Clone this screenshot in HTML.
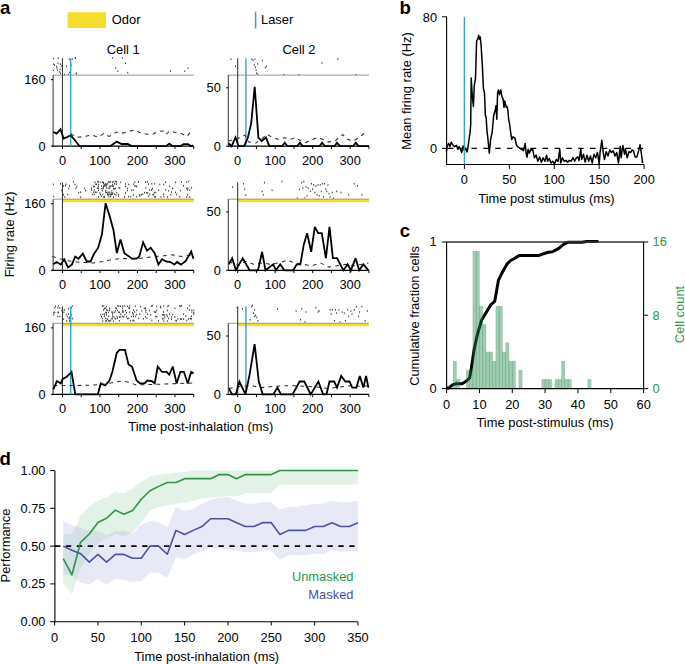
<!DOCTYPE html>
<html><head><meta charset="utf-8"><style>
html,body{margin:0;padding:0;background:#fff;}
svg{display:block;font-family:"Liberation Sans", sans-serif;}
</style></head><body>
<svg width="685" height="664" viewBox="0 0 685 664">
<rect width="685" height="664" fill="#fff"/>
<text x="0" y="13.7" font-size="18.6" text-anchor="start" fill="#000" font-weight="bold">a</text>
<rect x="67.5" y="12.2" width="38.5" height="15.8" fill="#F5DE2A"/>
<text x="111.8" y="24.3" font-size="12.9" text-anchor="start" fill="#000">Odor</text>
<line x1="255.6" y1="11.6" x2="255.6" y2="28.5" stroke="#33A6C9" stroke-width="1.5"/>
<text x="261" y="24.2" font-size="12.9" text-anchor="start" fill="#000">Laser</text>
<text x="123.2" y="53.5" font-size="12.9" text-anchor="middle" fill="#000">Cell 1</text>
<text x="299" y="53.8" font-size="12.9" text-anchor="middle" fill="#000">Cell 2</text>
<rect x="53" y="57.7" width="1" height="1.6" fill="#3c3c3c"/>
<rect x="57.8" y="57.3" width="1" height="1.6" fill="#3c3c3c"/>
<rect x="53.2" y="63.4" width="1" height="1.6" fill="#3c3c3c"/>
<rect x="53.9" y="64.3" width="1" height="1.6" fill="#3c3c3c"/>
<rect x="56.1" y="65.6" width="1" height="1.6" fill="#3c3c3c"/>
<rect x="57.4" y="62.5" width="1" height="1.6" fill="#3c3c3c"/>
<rect x="60" y="63.4" width="1" height="1.6" fill="#3c3c3c"/>
<rect x="61.3" y="65.2" width="1" height="1.6" fill="#3c3c3c"/>
<rect x="56.5" y="67.3" width="1" height="1.6" fill="#3c3c3c"/>
<rect x="59.6" y="68.7" width="1" height="1.6" fill="#3c3c3c"/>
<rect x="56.9" y="69.5" width="1" height="1.6" fill="#3c3c3c"/>
<rect x="58.9" y="71.1" width="1" height="1.6" fill="#3c3c3c"/>
<rect x="60" y="72.6" width="1" height="1.6" fill="#3c3c3c"/>
<rect x="64" y="73.7" width="1" height="1.6" fill="#3c3c3c"/>
<rect x="65.9" y="65.6" width="1" height="1.6" fill="#3c3c3c"/>
<rect x="67.9" y="73.7" width="1" height="1.6" fill="#3c3c3c"/>
<rect x="69.2" y="71.7" width="1" height="1.6" fill="#3c3c3c"/>
<rect x="70.7" y="64.5" width="1" height="1.6" fill="#3c3c3c"/>
<rect x="68.8" y="58.6" width="1" height="1.6" fill="#3c3c3c"/>
<rect x="71.8" y="58.1" width="1" height="1.6" fill="#3c3c3c"/>
<rect x="74.9" y="57.3" width="1" height="1.6" fill="#3c3c3c"/>
<rect x="75.8" y="72.6" width="1" height="1.6" fill="#3c3c3c"/>
<rect x="52.8" y="69.5" width="1" height="1.6" fill="#3c3c3c"/>
<rect x="111.9" y="57.1" width="1" height="1.6" fill="#3c3c3c"/>
<rect x="121.8" y="57.1" width="1" height="1.6" fill="#3c3c3c"/>
<rect x="125" y="62.4" width="1" height="1.6" fill="#3c3c3c"/>
<rect x="115.2" y="67.4" width="1" height="1.6" fill="#3c3c3c"/>
<rect x="117.4" y="70.3" width="1" height="1.6" fill="#3c3c3c"/>
<rect x="127.2" y="71.8" width="1" height="1.6" fill="#3c3c3c"/>
<rect x="169.9" y="70.3" width="1" height="1.6" fill="#3c3c3c"/>
<rect x="184.2" y="70.3" width="1" height="1.6" fill="#3c3c3c"/>
<rect x="187.5" y="67.4" width="1" height="1.6" fill="#3c3c3c"/>
<rect x="74.7" y="57.1" width="1" height="1.6" fill="#3c3c3c"/>
<rect x="75.8" y="72.9" width="1" height="1.6" fill="#3c3c3c"/>
<line x1="53.1" y1="75.1" x2="193.72" y2="75.1" stroke="#999" stroke-width="1"/>
<line x1="53.1" y1="75.1" x2="53.1" y2="146.7" stroke="#333" stroke-width="1"/>
<line x1="52.6" y1="146.2" x2="193.72" y2="146.2" stroke="#000" stroke-width="1.2"/>
<line x1="62.48" y1="146.2" x2="62.48" y2="149" stroke="#000" stroke-width="1"/>
<line x1="81.22" y1="146.2" x2="81.22" y2="149" stroke="#000" stroke-width="1"/>
<line x1="99.97" y1="146.2" x2="99.97" y2="149" stroke="#000" stroke-width="1"/>
<line x1="118.72" y1="146.2" x2="118.72" y2="149" stroke="#000" stroke-width="1"/>
<line x1="137.47" y1="146.2" x2="137.47" y2="149" stroke="#000" stroke-width="1"/>
<line x1="156.22" y1="146.2" x2="156.22" y2="149" stroke="#000" stroke-width="1"/>
<line x1="174.97" y1="146.2" x2="174.97" y2="149" stroke="#000" stroke-width="1"/>
<line x1="193.72" y1="146.2" x2="193.72" y2="149" stroke="#000" stroke-width="1"/>
<line x1="50.9" y1="146.2" x2="53.1" y2="146.2" stroke="#000" stroke-width="1"/>
<text x="45.6" y="150.6" font-size="12.8" text-anchor="end" fill="#000">0</text>
<line x1="50.9" y1="79.64" x2="53.1" y2="79.64" stroke="#000" stroke-width="1"/>
<text x="45.6" y="84.04" font-size="12.8" text-anchor="end" fill="#000">160</text>
<text x="62.48" y="164.5" font-size="12.8" text-anchor="middle" fill="#000">0</text>
<text x="99.97" y="164.5" font-size="12.8" text-anchor="middle" fill="#000">100</text>
<text x="137.47" y="164.5" font-size="12.8" text-anchor="middle" fill="#000">200</text>
<text x="174.97" y="164.5" font-size="12.8" text-anchor="middle" fill="#000">300</text>
<line x1="62.48" y1="58.2" x2="62.48" y2="146.2" stroke="#3a3a3a" stroke-width="1.1"/>
<line x1="70.72" y1="58.2" x2="70.72" y2="146.2" stroke="#33A6C9" stroke-width="1.4"/>
<polyline points="70.8,133.6 76.3,137.5 85,136.4 91.6,134.9 98.2,137.1 103.6,133.6 109.1,136.4 116.8,132 122.3,133.1 127.7,132 134.3,129.9 140.9,133.1 147.4,134.2 152.9,134.2 158.4,131.4 163.9,130.9 166,134.2 170,130.9 175.9,132.7 181.4,133.6 186.9,136.4 190.1,132.7" fill="none" stroke="#2a2a2a" stroke-width="1.05" stroke-dasharray="3.8,4.2"/>
<polyline points="53.3,132 56.6,133.6 60.5,129.2 63.6,138.6 67.1,137.1 70.8,135.3 74.5,139.7 79.6,146.2 110.2,146.2 116.8,141.6 121.5,144 127.7,144 132.1,146.2 166,146.2 169.3,143.6 172.6,146.2 180.3,146.2 183.6,144.1 188,144.1 191.2,146.2 193.4,145.2" fill="none" stroke="#000" stroke-width="1.8" stroke-linejoin="miter" stroke-miterlimit="3"/>
<rect x="230.4" y="58.4" width="1" height="1.6" fill="#3c3c3c"/>
<rect x="235" y="65.4" width="1" height="1.6" fill="#3c3c3c"/>
<rect x="251.4" y="58.4" width="1" height="1.6" fill="#3c3c3c"/>
<rect x="252.6" y="59.6" width="1" height="1.6" fill="#3c3c3c"/>
<rect x="254.4" y="58.4" width="1" height="1.6" fill="#3c3c3c"/>
<rect x="253.7" y="64.2" width="1" height="1.6" fill="#3c3c3c"/>
<rect x="254.9" y="66.6" width="1" height="1.6" fill="#3c3c3c"/>
<rect x="255.6" y="69.4" width="1" height="1.6" fill="#3c3c3c"/>
<rect x="256.1" y="72.4" width="1" height="1.6" fill="#3c3c3c"/>
<rect x="257.2" y="63.1" width="1" height="1.6" fill="#3c3c3c"/>
<rect x="261.9" y="59.6" width="1" height="1.6" fill="#3c3c3c"/>
<rect x="264.7" y="66.6" width="1" height="1.6" fill="#3c3c3c"/>
<rect x="265.9" y="65.4" width="1" height="1.6" fill="#3c3c3c"/>
<rect x="321.5" y="62.1" width="1" height="1.6" fill="#3c3c3c"/>
<rect x="337.3" y="58.3" width="1" height="1.6" fill="#3c3c3c"/>
<rect x="283.2" y="73.9" width="1" height="1.6" fill="#3c3c3c"/>
<rect x="298.4" y="73.9" width="1" height="1.6" fill="#3c3c3c"/>
<rect x="355.3" y="73.9" width="1" height="1.6" fill="#3c3c3c"/>
<rect x="257.2" y="73.6" width="1" height="1.6" fill="#3c3c3c"/>
<line x1="228.3" y1="75.1" x2="368.93" y2="75.1" stroke="#999" stroke-width="1"/>
<line x1="228.3" y1="75.1" x2="228.3" y2="146.7" stroke="#333" stroke-width="1"/>
<line x1="227.8" y1="146.2" x2="368.93" y2="146.2" stroke="#000" stroke-width="1.2"/>
<line x1="237.68" y1="146.2" x2="237.68" y2="149" stroke="#000" stroke-width="1"/>
<line x1="256.43" y1="146.2" x2="256.43" y2="149" stroke="#000" stroke-width="1"/>
<line x1="275.18" y1="146.2" x2="275.18" y2="149" stroke="#000" stroke-width="1"/>
<line x1="293.93" y1="146.2" x2="293.93" y2="149" stroke="#000" stroke-width="1"/>
<line x1="312.68" y1="146.2" x2="312.68" y2="149" stroke="#000" stroke-width="1"/>
<line x1="331.43" y1="146.2" x2="331.43" y2="149" stroke="#000" stroke-width="1"/>
<line x1="350.18" y1="146.2" x2="350.18" y2="149" stroke="#000" stroke-width="1"/>
<line x1="368.93" y1="146.2" x2="368.93" y2="149" stroke="#000" stroke-width="1"/>
<line x1="226.1" y1="146.2" x2="228.3" y2="146.2" stroke="#000" stroke-width="1"/>
<text x="220.8" y="150.6" font-size="12.8" text-anchor="end" fill="#000">0</text>
<line x1="226.1" y1="87.8" x2="228.3" y2="87.8" stroke="#000" stroke-width="1"/>
<text x="220.8" y="92.2" font-size="12.8" text-anchor="end" fill="#000">50</text>
<text x="237.68" y="164.5" font-size="12.8" text-anchor="middle" fill="#000">0</text>
<text x="275.18" y="164.5" font-size="12.8" text-anchor="middle" fill="#000">100</text>
<text x="312.68" y="164.5" font-size="12.8" text-anchor="middle" fill="#000">200</text>
<text x="350.18" y="164.5" font-size="12.8" text-anchor="middle" fill="#000">300</text>
<line x1="237.68" y1="58.2" x2="237.68" y2="146.2" stroke="#3a3a3a" stroke-width="1.1"/>
<line x1="245.93" y1="58.2" x2="245.93" y2="146.2" stroke="#33A6C9" stroke-width="1.4"/>
<polyline points="228.5,141 234,139.5 240.2,137.5 244.9,135.1 248.4,141.7 255.4,143.3 260.1,139.8 267.4,134.3 273.3,138.3 279,139.2 284.7,137.7 290.4,139.2 295.1,137.7 300.8,140.7 305.5,142.6 311.2,140.2 316.9,137.7 322.6,139.2 328.3,142.1 335.9,140.2 342.6,134.5 347.3,139.2 353,141.1 358.7,137.7 366.3,131.6" fill="none" stroke="#2a2a2a" stroke-width="1.05" stroke-dasharray="3.8,4.2"/>
<polyline points="228.5,143.3 231.6,146.2 235.5,137.5 238.6,146.2 244.2,146.2 247.9,137.5 251.2,123.4 254.7,86.8 258.4,137.5 261.7,141 265.9,137.5 269.4,146.2 282,146.2 284.7,142.6 287.6,146.2 297,146.2 299.9,142.6 302.7,146.2 319.4,146.2 322.1,142.6 325,146.2 334.4,146.2 337,142.6 340,146.2 353,146.2 355.8,142.6 358.7,146.2 369,146.2" fill="none" stroke="#000" stroke-width="1.8" stroke-linejoin="miter" stroke-miterlimit="3"/>
<rect x="52.87" y="183.63" width="1" height="1.6" fill="#3c3c3c"/>
<rect x="53.2" y="195.74" width="1" height="1.6" fill="#3c3c3c"/>
<rect x="59.99" y="183.03" width="1" height="1.6" fill="#3c3c3c"/>
<rect x="61.21" y="189.76" width="1" height="1.6" fill="#3c3c3c"/>
<rect x="62.82" y="185.06" width="1" height="1.6" fill="#3c3c3c"/>
<rect x="62.99" y="193.94" width="1" height="1.6" fill="#3c3c3c"/>
<rect x="64.3" y="196.18" width="1" height="1.6" fill="#3c3c3c"/>
<rect x="65.31" y="183.41" width="1" height="1.6" fill="#3c3c3c"/>
<rect x="64.95" y="185.01" width="1" height="1.6" fill="#3c3c3c"/>
<rect x="67.22" y="193.73" width="1" height="1.6" fill="#3c3c3c"/>
<rect x="68.22" y="187.81" width="1" height="1.6" fill="#3c3c3c"/>
<rect x="69.01" y="185.31" width="1" height="1.6" fill="#3c3c3c"/>
<rect x="72.97" y="180.9" width="1" height="1.6" fill="#3c3c3c"/>
<rect x="74.4" y="183.55" width="1" height="1.6" fill="#3c3c3c"/>
<rect x="75.35" y="187.64" width="1" height="1.6" fill="#3c3c3c"/>
<rect x="76.26" y="185.74" width="1" height="1.6" fill="#3c3c3c"/>
<rect x="78.14" y="191.83" width="1" height="1.6" fill="#3c3c3c"/>
<rect x="80.06" y="191.39" width="1" height="1.6" fill="#3c3c3c"/>
<rect x="80.3" y="196.26" width="1" height="1.6" fill="#3c3c3c"/>
<rect x="84.21" y="187.61" width="1" height="1.6" fill="#3c3c3c"/>
<rect x="84.91" y="189.78" width="1" height="1.6" fill="#3c3c3c"/>
<rect x="90.94" y="187.37" width="1" height="1.6" fill="#3c3c3c"/>
<rect x="91.16" y="189.31" width="1" height="1.6" fill="#3c3c3c"/>
<rect x="92.25" y="193.64" width="1" height="1.6" fill="#3c3c3c"/>
<rect x="93.02" y="185.64" width="1" height="1.6" fill="#3c3c3c"/>
<rect x="93.16" y="191.3" width="1" height="1.6" fill="#3c3c3c"/>
<rect x="94.36" y="181.38" width="1" height="1.6" fill="#3c3c3c"/>
<rect x="94.07" y="185.74" width="1" height="1.6" fill="#3c3c3c"/>
<rect x="93.81" y="189.21" width="1" height="1.6" fill="#3c3c3c"/>
<rect x="94.13" y="193.59" width="1" height="1.6" fill="#3c3c3c"/>
<rect x="95.33" y="183.34" width="1" height="1.6" fill="#3c3c3c"/>
<rect x="95.01" y="191.35" width="1" height="1.6" fill="#3c3c3c"/>
<rect x="95.91" y="183.62" width="1" height="1.6" fill="#3c3c3c"/>
<rect x="96.31" y="191.59" width="1" height="1.6" fill="#3c3c3c"/>
<rect x="97" y="180.92" width="1" height="1.6" fill="#3c3c3c"/>
<rect x="96.9" y="187.36" width="1" height="1.6" fill="#3c3c3c"/>
<rect x="98.15" y="181.03" width="1" height="1.6" fill="#3c3c3c"/>
<rect x="98.08" y="183.79" width="1" height="1.6" fill="#3c3c3c"/>
<rect x="97.89" y="185.57" width="1" height="1.6" fill="#3c3c3c"/>
<rect x="97.96" y="187.5" width="1" height="1.6" fill="#3c3c3c"/>
<rect x="98.14" y="189.63" width="1" height="1.6" fill="#3c3c3c"/>
<rect x="98.14" y="196.17" width="1" height="1.6" fill="#3c3c3c"/>
<rect x="99.28" y="192.07" width="1" height="1.6" fill="#3c3c3c"/>
<rect x="100.26" y="181.44" width="1" height="1.6" fill="#3c3c3c"/>
<rect x="100" y="193.62" width="1" height="1.6" fill="#3c3c3c"/>
<rect x="100.94" y="185.25" width="1" height="1.6" fill="#3c3c3c"/>
<rect x="100.8" y="187.87" width="1" height="1.6" fill="#3c3c3c"/>
<rect x="100.9" y="195.47" width="1" height="1.6" fill="#3c3c3c"/>
<rect x="101.99" y="181.43" width="1" height="1.6" fill="#3c3c3c"/>
<rect x="102.35" y="187.58" width="1" height="1.6" fill="#3c3c3c"/>
<rect x="101.91" y="189.68" width="1" height="1.6" fill="#3c3c3c"/>
<rect x="102.26" y="193.73" width="1" height="1.6" fill="#3c3c3c"/>
<rect x="103.09" y="181.6" width="1" height="1.6" fill="#3c3c3c"/>
<rect x="102.95" y="182.82" width="1" height="1.6" fill="#3c3c3c"/>
<rect x="102.96" y="185.6" width="1" height="1.6" fill="#3c3c3c"/>
<rect x="103.04" y="187.2" width="1" height="1.6" fill="#3c3c3c"/>
<rect x="103.24" y="196.36" width="1" height="1.6" fill="#3c3c3c"/>
<rect x="104.29" y="183.68" width="1" height="1.6" fill="#3c3c3c"/>
<rect x="103.88" y="185.09" width="1" height="1.6" fill="#3c3c3c"/>
<rect x="104" y="196.15" width="1" height="1.6" fill="#3c3c3c"/>
<rect x="105.21" y="183.14" width="1" height="1.6" fill="#3c3c3c"/>
<rect x="105.05" y="184.95" width="1" height="1.6" fill="#3c3c3c"/>
<rect x="105.1" y="189.7" width="1" height="1.6" fill="#3c3c3c"/>
<rect x="105.08" y="191.21" width="1" height="1.6" fill="#3c3c3c"/>
<rect x="106.17" y="183.52" width="1" height="1.6" fill="#3c3c3c"/>
<rect x="105.86" y="185.06" width="1" height="1.6" fill="#3c3c3c"/>
<rect x="106.26" y="187.09" width="1" height="1.6" fill="#3c3c3c"/>
<rect x="106.12" y="191.79" width="1" height="1.6" fill="#3c3c3c"/>
<rect x="107.24" y="183.06" width="1" height="1.6" fill="#3c3c3c"/>
<rect x="107.26" y="192.18" width="1" height="1.6" fill="#3c3c3c"/>
<rect x="106.97" y="193.82" width="1" height="1.6" fill="#3c3c3c"/>
<rect x="107.81" y="181.18" width="1" height="1.6" fill="#3c3c3c"/>
<rect x="108.39" y="187.23" width="1" height="1.6" fill="#3c3c3c"/>
<rect x="107.82" y="191.33" width="1" height="1.6" fill="#3c3c3c"/>
<rect x="108.1" y="193.86" width="1" height="1.6" fill="#3c3c3c"/>
<rect x="108.36" y="195.77" width="1" height="1.6" fill="#3c3c3c"/>
<rect x="108.91" y="181.44" width="1" height="1.6" fill="#3c3c3c"/>
<rect x="108.82" y="185.68" width="1" height="1.6" fill="#3c3c3c"/>
<rect x="109.39" y="187.5" width="1" height="1.6" fill="#3c3c3c"/>
<rect x="109.28" y="191.66" width="1" height="1.6" fill="#3c3c3c"/>
<rect x="109.34" y="193.41" width="1" height="1.6" fill="#3c3c3c"/>
<rect x="110.19" y="181.1" width="1" height="1.6" fill="#3c3c3c"/>
<rect x="110.14" y="185.31" width="1" height="1.6" fill="#3c3c3c"/>
<rect x="109.95" y="193.56" width="1" height="1.6" fill="#3c3c3c"/>
<rect x="109.94" y="195.6" width="1" height="1.6" fill="#3c3c3c"/>
<rect x="111.4" y="185.12" width="1" height="1.6" fill="#3c3c3c"/>
<rect x="111.32" y="189.97" width="1" height="1.6" fill="#3c3c3c"/>
<rect x="111.25" y="192.02" width="1" height="1.6" fill="#3c3c3c"/>
<rect x="111" y="193.79" width="1" height="1.6" fill="#3c3c3c"/>
<rect x="112.21" y="181.3" width="1" height="1.6" fill="#3c3c3c"/>
<rect x="112.15" y="183.68" width="1" height="1.6" fill="#3c3c3c"/>
<rect x="112.33" y="185.26" width="1" height="1.6" fill="#3c3c3c"/>
<rect x="112.32" y="192.19" width="1" height="1.6" fill="#3c3c3c"/>
<rect x="111.81" y="193.41" width="1" height="1.6" fill="#3c3c3c"/>
<rect x="113.35" y="180.85" width="1" height="1.6" fill="#3c3c3c"/>
<rect x="112.9" y="185.58" width="1" height="1.6" fill="#3c3c3c"/>
<rect x="113" y="187.92" width="1" height="1.6" fill="#3c3c3c"/>
<rect x="112.94" y="196.19" width="1" height="1.6" fill="#3c3c3c"/>
<rect x="114.1" y="183.03" width="1" height="1.6" fill="#3c3c3c"/>
<rect x="113.81" y="187.99" width="1" height="1.6" fill="#3c3c3c"/>
<rect x="114.09" y="193.44" width="1" height="1.6" fill="#3c3c3c"/>
<rect x="115.21" y="180.85" width="1" height="1.6" fill="#3c3c3c"/>
<rect x="115.01" y="187.5" width="1" height="1.6" fill="#3c3c3c"/>
<rect x="115.38" y="194.18" width="1" height="1.6" fill="#3c3c3c"/>
<rect x="115.91" y="180.96" width="1" height="1.6" fill="#3c3c3c"/>
<rect x="115.83" y="183.31" width="1" height="1.6" fill="#3c3c3c"/>
<rect x="116.21" y="191.85" width="1" height="1.6" fill="#3c3c3c"/>
<rect x="118.4" y="187.01" width="1" height="1.6" fill="#3c3c3c"/>
<rect x="118.17" y="193.68" width="1" height="1.6" fill="#3c3c3c"/>
<rect x="117.92" y="195.52" width="1" height="1.6" fill="#3c3c3c"/>
<rect x="119.22" y="187.32" width="1" height="1.6" fill="#3c3c3c"/>
<rect x="120.25" y="181.55" width="1" height="1.6" fill="#3c3c3c"/>
<rect x="124.03" y="196.23" width="1" height="1.6" fill="#3c3c3c"/>
<rect x="124.89" y="183.05" width="1" height="1.6" fill="#3c3c3c"/>
<rect x="125.01" y="185.7" width="1" height="1.6" fill="#3c3c3c"/>
<rect x="125.04" y="192.2" width="1" height="1.6" fill="#3c3c3c"/>
<rect x="126.92" y="187.57" width="1" height="1.6" fill="#3c3c3c"/>
<rect x="126.91" y="189.82" width="1" height="1.6" fill="#3c3c3c"/>
<rect x="128.18" y="183.66" width="1" height="1.6" fill="#3c3c3c"/>
<rect x="128.07" y="195.77" width="1" height="1.6" fill="#3c3c3c"/>
<rect x="130.25" y="195.78" width="1" height="1.6" fill="#3c3c3c"/>
<rect x="131.16" y="189.56" width="1" height="1.6" fill="#3c3c3c"/>
<rect x="133.21" y="183.35" width="1" height="1.6" fill="#3c3c3c"/>
<rect x="132.93" y="189.18" width="1" height="1.6" fill="#3c3c3c"/>
<rect x="132.85" y="194.05" width="1" height="1.6" fill="#3c3c3c"/>
<rect x="134.21" y="181.41" width="1" height="1.6" fill="#3c3c3c"/>
<rect x="134.21" y="185.32" width="1" height="1.6" fill="#3c3c3c"/>
<rect x="135.39" y="185.17" width="1" height="1.6" fill="#3c3c3c"/>
<rect x="135.98" y="185.77" width="1" height="1.6" fill="#3c3c3c"/>
<rect x="136.12" y="195.77" width="1" height="1.6" fill="#3c3c3c"/>
<rect x="137.99" y="181.23" width="1" height="1.6" fill="#3c3c3c"/>
<rect x="139.06" y="193.94" width="1" height="1.6" fill="#3c3c3c"/>
<rect x="139.32" y="195.47" width="1" height="1.6" fill="#3c3c3c"/>
<rect x="140.86" y="194.08" width="1" height="1.6" fill="#3c3c3c"/>
<rect x="142.22" y="193.34" width="1" height="1.6" fill="#3c3c3c"/>
<rect x="144.03" y="191.84" width="1" height="1.6" fill="#3c3c3c"/>
<rect x="145.08" y="181.43" width="1" height="1.6" fill="#3c3c3c"/>
<rect x="145.3" y="187.12" width="1" height="1.6" fill="#3c3c3c"/>
<rect x="146.09" y="192.06" width="1" height="1.6" fill="#3c3c3c"/>
<rect x="146.88" y="180.97" width="1" height="1.6" fill="#3c3c3c"/>
<rect x="147.16" y="192.17" width="1" height="1.6" fill="#3c3c3c"/>
<rect x="148" y="183.25" width="1" height="1.6" fill="#3c3c3c"/>
<rect x="148.14" y="195.5" width="1" height="1.6" fill="#3c3c3c"/>
<rect x="149.11" y="189.2" width="1" height="1.6" fill="#3c3c3c"/>
<rect x="149.15" y="193.65" width="1" height="1.6" fill="#3c3c3c"/>
<rect x="151.33" y="182.92" width="1" height="1.6" fill="#3c3c3c"/>
<rect x="151.08" y="189.26" width="1" height="1.6" fill="#3c3c3c"/>
<rect x="151.94" y="187.87" width="1" height="1.6" fill="#3c3c3c"/>
<rect x="152.37" y="193.79" width="1" height="1.6" fill="#3c3c3c"/>
<rect x="153.04" y="193.82" width="1" height="1.6" fill="#3c3c3c"/>
<rect x="154.15" y="183.03" width="1" height="1.6" fill="#3c3c3c"/>
<rect x="153.95" y="191.8" width="1" height="1.6" fill="#3c3c3c"/>
<rect x="154.17" y="196.09" width="1" height="1.6" fill="#3c3c3c"/>
<rect x="155.36" y="191.61" width="1" height="1.6" fill="#3c3c3c"/>
<rect x="154.95" y="196.13" width="1" height="1.6" fill="#3c3c3c"/>
<rect x="158.23" y="189.45" width="1" height="1.6" fill="#3c3c3c"/>
<rect x="159.3" y="183.74" width="1" height="1.6" fill="#3c3c3c"/>
<rect x="160.38" y="196.19" width="1" height="1.6" fill="#3c3c3c"/>
<rect x="163.19" y="183.64" width="1" height="1.6" fill="#3c3c3c"/>
<rect x="163.09" y="193.32" width="1" height="1.6" fill="#3c3c3c"/>
<rect x="163.29" y="195.82" width="1" height="1.6" fill="#3c3c3c"/>
<rect x="164.96" y="181.4" width="1" height="1.6" fill="#3c3c3c"/>
<rect x="165.21" y="189.14" width="1" height="1.6" fill="#3c3c3c"/>
<rect x="166.91" y="196.35" width="1" height="1.6" fill="#3c3c3c"/>
<rect x="168.13" y="189.96" width="1" height="1.6" fill="#3c3c3c"/>
<rect x="169.17" y="185.34" width="1" height="1.6" fill="#3c3c3c"/>
<rect x="170.3" y="193.98" width="1" height="1.6" fill="#3c3c3c"/>
<rect x="171" y="191.34" width="1" height="1.6" fill="#3c3c3c"/>
<rect x="172.04" y="187.75" width="1" height="1.6" fill="#3c3c3c"/>
<rect x="175.11" y="181.58" width="1" height="1.6" fill="#3c3c3c"/>
<rect x="174.98" y="191.58" width="1" height="1.6" fill="#3c3c3c"/>
<rect x="175.96" y="193.69" width="1" height="1.6" fill="#3c3c3c"/>
<rect x="179.3" y="195.97" width="1" height="1.6" fill="#3c3c3c"/>
<rect x="180.13" y="189.85" width="1" height="1.6" fill="#3c3c3c"/>
<rect x="180.98" y="181.34" width="1" height="1.6" fill="#3c3c3c"/>
<rect x="183" y="184.97" width="1" height="1.6" fill="#3c3c3c"/>
<rect x="186.22" y="181.4" width="1" height="1.6" fill="#3c3c3c"/>
<rect x="186.16" y="187.82" width="1" height="1.6" fill="#3c3c3c"/>
<rect x="186.21" y="196.37" width="1" height="1.6" fill="#3c3c3c"/>
<rect x="187.3" y="187.33" width="1" height="1.6" fill="#3c3c3c"/>
<rect x="187.18" y="189.24" width="1" height="1.6" fill="#3c3c3c"/>
<rect x="187.07" y="193.85" width="1" height="1.6" fill="#3c3c3c"/>
<rect x="188.3" y="180.81" width="1" height="1.6" fill="#3c3c3c"/>
<rect x="189.27" y="189.13" width="1" height="1.6" fill="#3c3c3c"/>
<rect x="189.18" y="196.12" width="1" height="1.6" fill="#3c3c3c"/>
<rect x="191.09" y="187.13" width="1" height="1.6" fill="#3c3c3c"/>
<rect x="62.48" y="198.8" width="131.25" height="3.4" fill="#F5DE2A"/>
<line x1="53.1" y1="199.2" x2="193.72" y2="199.2" stroke="#999" stroke-width="1"/>
<line x1="53.1" y1="199.2" x2="53.1" y2="270.8" stroke="#333" stroke-width="1"/>
<line x1="52.6" y1="270.3" x2="193.72" y2="270.3" stroke="#000" stroke-width="1.2"/>
<line x1="62.48" y1="270.3" x2="62.48" y2="273.1" stroke="#000" stroke-width="1"/>
<line x1="81.22" y1="270.3" x2="81.22" y2="273.1" stroke="#000" stroke-width="1"/>
<line x1="99.97" y1="270.3" x2="99.97" y2="273.1" stroke="#000" stroke-width="1"/>
<line x1="118.72" y1="270.3" x2="118.72" y2="273.1" stroke="#000" stroke-width="1"/>
<line x1="137.47" y1="270.3" x2="137.47" y2="273.1" stroke="#000" stroke-width="1"/>
<line x1="156.22" y1="270.3" x2="156.22" y2="273.1" stroke="#000" stroke-width="1"/>
<line x1="174.97" y1="270.3" x2="174.97" y2="273.1" stroke="#000" stroke-width="1"/>
<line x1="193.72" y1="270.3" x2="193.72" y2="273.1" stroke="#000" stroke-width="1"/>
<line x1="50.9" y1="270.3" x2="53.1" y2="270.3" stroke="#000" stroke-width="1"/>
<text x="45.6" y="274.7" font-size="12.8" text-anchor="end" fill="#000">0</text>
<line x1="50.9" y1="203.74" x2="53.1" y2="203.74" stroke="#000" stroke-width="1"/>
<text x="45.6" y="208.14" font-size="12.8" text-anchor="end" fill="#000">160</text>
<text x="62.48" y="288.6" font-size="12.8" text-anchor="middle" fill="#000">0</text>
<text x="99.97" y="288.6" font-size="12.8" text-anchor="middle" fill="#000">100</text>
<text x="137.47" y="288.6" font-size="12.8" text-anchor="middle" fill="#000">200</text>
<text x="174.97" y="288.6" font-size="12.8" text-anchor="middle" fill="#000">300</text>
<line x1="62.48" y1="182.3" x2="62.48" y2="270.3" stroke="#3a3a3a" stroke-width="1.1"/>
<polyline points="52.2,256.4 58.8,258.5 67.5,260.8 76.3,261.9 85,262.5 93.8,263 102.6,261.5 111.3,259.7 120.1,258.6 128.8,258.6 137.6,258.6 146.3,257.5 155.1,256.4 163.9,255.8 172.6,254.9 181.4,256.4 190.1,255.3 193.4,258.6" fill="none" stroke="#2a2a2a" stroke-width="1.05" stroke-dasharray="3.8,4.2"/>
<polyline points="53.3,264.2 56.6,262 60.9,264.6 64.2,259.3 68,267.4 71.9,264.6 75.2,256.5 78.5,258.7 82.8,253.6 86.8,261.5 90.5,261.5 93.8,254.3 98.2,247.7 101.9,234.6 105.6,203.2 109.6,216 113.5,230.2 116.8,253.2 120.5,239.6 124.4,253.2 132.1,258.7 136.5,258.7 139.3,256.5 143.1,242.3 147,250.6 150.7,247.7 154.7,253.2 158.4,264.6 162.1,259.3 166,261.5 170.4,262 174.4,264.6 177,262 180.9,264.6 185.8,260.9 191.2,251.5 193.4,258.7" fill="none" stroke="#000" stroke-width="1.8" stroke-linejoin="miter" stroke-miterlimit="3"/>
<rect x="232.16" y="186.24" width="1" height="1.6" fill="#3c3c3c"/>
<rect x="243.11" y="182.96" width="1" height="1.6" fill="#3c3c3c"/>
<rect x="244.21" y="188.43" width="1" height="1.6" fill="#3c3c3c"/>
<rect x="245.3" y="194.34" width="1" height="1.6" fill="#3c3c3c"/>
<rect x="261.72" y="190.62" width="1" height="1.6" fill="#3c3c3c"/>
<rect x="262.82" y="193.91" width="1" height="1.6" fill="#3c3c3c"/>
<rect x="263.91" y="181.86" width="1" height="1.6" fill="#3c3c3c"/>
<rect x="271.58" y="189.53" width="1" height="1.6" fill="#3c3c3c"/>
<rect x="281.43" y="180.77" width="1" height="1.6" fill="#3c3c3c"/>
<rect x="296.76" y="197.19" width="1" height="1.6" fill="#3c3c3c"/>
<rect x="298.95" y="188.43" width="1" height="1.6" fill="#3c3c3c"/>
<rect x="301.14" y="181.86" width="1" height="1.6" fill="#3c3c3c"/>
<rect x="302.23" y="187.34" width="1" height="1.6" fill="#3c3c3c"/>
<rect x="303.33" y="180.77" width="1" height="1.6" fill="#3c3c3c"/>
<rect x="304.42" y="197.19" width="1" height="1.6" fill="#3c3c3c"/>
<rect x="305.52" y="186.24" width="1" height="1.6" fill="#3c3c3c"/>
<rect x="306.61" y="195" width="1" height="1.6" fill="#3c3c3c"/>
<rect x="307.71" y="187.34" width="1" height="1.6" fill="#3c3c3c"/>
<rect x="309.9" y="190.62" width="1" height="1.6" fill="#3c3c3c"/>
<rect x="310.99" y="182.96" width="1" height="1.6" fill="#3c3c3c"/>
<rect x="312.08" y="188.43" width="1" height="1.6" fill="#3c3c3c"/>
<rect x="313.18" y="184.05" width="1" height="1.6" fill="#3c3c3c"/>
<rect x="314.27" y="191.72" width="1" height="1.6" fill="#3c3c3c"/>
<rect x="315.37" y="185.15" width="1" height="1.6" fill="#3c3c3c"/>
<rect x="316.46" y="193.91" width="1" height="1.6" fill="#3c3c3c"/>
<rect x="317.56" y="184.05" width="1" height="1.6" fill="#3c3c3c"/>
<rect x="318.65" y="195" width="1" height="1.6" fill="#3c3c3c"/>
<rect x="319.75" y="184.05" width="1" height="1.6" fill="#3c3c3c"/>
<rect x="320.84" y="190.62" width="1" height="1.6" fill="#3c3c3c"/>
<rect x="321.94" y="182.96" width="1" height="1.6" fill="#3c3c3c"/>
<rect x="323.03" y="196.1" width="1" height="1.6" fill="#3c3c3c"/>
<rect x="324.13" y="182.96" width="1" height="1.6" fill="#3c3c3c"/>
<rect x="325.22" y="188.43" width="1" height="1.6" fill="#3c3c3c"/>
<rect x="326.32" y="190.62" width="1" height="1.6" fill="#3c3c3c"/>
<rect x="327.41" y="184.05" width="1" height="1.6" fill="#3c3c3c"/>
<rect x="328.51" y="192.81" width="1" height="1.6" fill="#3c3c3c"/>
<rect x="329.6" y="196.1" width="1" height="1.6" fill="#3c3c3c"/>
<rect x="331.79" y="191.72" width="1" height="1.6" fill="#3c3c3c"/>
<rect x="332.89" y="197.19" width="1" height="1.6" fill="#3c3c3c"/>
<rect x="336.17" y="190.62" width="1" height="1.6" fill="#3c3c3c"/>
<rect x="340.55" y="191.72" width="1" height="1.6" fill="#3c3c3c"/>
<rect x="348.21" y="193.91" width="1" height="1.6" fill="#3c3c3c"/>
<rect x="353.69" y="182.96" width="1" height="1.6" fill="#3c3c3c"/>
<rect x="356.97" y="185.15" width="1" height="1.6" fill="#3c3c3c"/>
<rect x="361.35" y="193.91" width="1" height="1.6" fill="#3c3c3c"/>
<rect x="237.68" y="198.8" width="131.25" height="3.4" fill="#F5DE2A"/>
<line x1="228.3" y1="199.2" x2="368.93" y2="199.2" stroke="#999" stroke-width="1"/>
<line x1="228.3" y1="199.2" x2="228.3" y2="270.8" stroke="#333" stroke-width="1"/>
<line x1="227.8" y1="270.3" x2="368.93" y2="270.3" stroke="#000" stroke-width="1.2"/>
<line x1="237.68" y1="270.3" x2="237.68" y2="273.1" stroke="#000" stroke-width="1"/>
<line x1="256.43" y1="270.3" x2="256.43" y2="273.1" stroke="#000" stroke-width="1"/>
<line x1="275.18" y1="270.3" x2="275.18" y2="273.1" stroke="#000" stroke-width="1"/>
<line x1="293.93" y1="270.3" x2="293.93" y2="273.1" stroke="#000" stroke-width="1"/>
<line x1="312.68" y1="270.3" x2="312.68" y2="273.1" stroke="#000" stroke-width="1"/>
<line x1="331.43" y1="270.3" x2="331.43" y2="273.1" stroke="#000" stroke-width="1"/>
<line x1="350.18" y1="270.3" x2="350.18" y2="273.1" stroke="#000" stroke-width="1"/>
<line x1="368.93" y1="270.3" x2="368.93" y2="273.1" stroke="#000" stroke-width="1"/>
<line x1="226.1" y1="270.3" x2="228.3" y2="270.3" stroke="#000" stroke-width="1"/>
<text x="220.8" y="274.7" font-size="12.8" text-anchor="end" fill="#000">0</text>
<line x1="226.1" y1="211.9" x2="228.3" y2="211.9" stroke="#000" stroke-width="1"/>
<text x="220.8" y="216.3" font-size="12.8" text-anchor="end" fill="#000">50</text>
<text x="237.68" y="288.6" font-size="12.8" text-anchor="middle" fill="#000">0</text>
<text x="275.18" y="288.6" font-size="12.8" text-anchor="middle" fill="#000">100</text>
<text x="312.68" y="288.6" font-size="12.8" text-anchor="middle" fill="#000">200</text>
<text x="350.18" y="288.6" font-size="12.8" text-anchor="middle" fill="#000">300</text>
<line x1="237.68" y1="182.3" x2="237.68" y2="270.3" stroke="#3a3a3a" stroke-width="1.1"/>
<polyline points="228.8,261.5 238.5,265.7 245.5,261.5 253.8,264.3 262.1,262.9 270.4,264.3 278.8,262.9 287.1,260.2 295.4,262.9 303.7,264.3 312,265.7 320.4,262.9 328.7,267.1 337,265.7 345.3,264.3 353.7,265.7 362,264.3 368.4,262.9" fill="none" stroke="#2a2a2a" stroke-width="1.05" stroke-dasharray="3.8,4.2"/>
<polyline points="228.8,264.3 232.2,258.2 235.8,269.9 242.7,258.2 249.6,270.3 258,270.3 262.1,251.8 265.5,270.3 273.2,264.3 276,270.3 280.2,264.3 284.3,270.3 293.2,270.3 296.8,264.3 300.4,264.3 303.7,244.9 307.1,233.2 311.2,251.8 314.8,226.9 318.2,233.2 321.8,233.2 325.9,258.2 329.5,226.9 332.9,258.2 337,258.2 343.4,270.3 347.6,264.3 350.9,270.3 355.6,258.2 359.2,270.3 363.4,264.3 368.4,270.3" fill="none" stroke="#000" stroke-width="1.8" stroke-linejoin="miter" stroke-miterlimit="3"/>
<rect x="53.36" y="311.86" width="1" height="1.6" fill="#3c3c3c"/>
<rect x="53.26" y="313.77" width="1" height="1.6" fill="#3c3c3c"/>
<rect x="54.27" y="307" width="1" height="1.6" fill="#3c3c3c"/>
<rect x="54.32" y="311.54" width="1" height="1.6" fill="#3c3c3c"/>
<rect x="55.1" y="305.52" width="1" height="1.6" fill="#3c3c3c"/>
<rect x="57.25" y="307.04" width="1" height="1.6" fill="#3c3c3c"/>
<rect x="57.39" y="311.64" width="1" height="1.6" fill="#3c3c3c"/>
<rect x="57.18" y="315.68" width="1" height="1.6" fill="#3c3c3c"/>
<rect x="58.09" y="304.89" width="1" height="1.6" fill="#3c3c3c"/>
<rect x="58.08" y="311.57" width="1" height="1.6" fill="#3c3c3c"/>
<rect x="59.29" y="307.02" width="1" height="1.6" fill="#3c3c3c"/>
<rect x="59.36" y="315.77" width="1" height="1.6" fill="#3c3c3c"/>
<rect x="61.35" y="309.81" width="1" height="1.6" fill="#3c3c3c"/>
<rect x="62.21" y="309.55" width="1" height="1.6" fill="#3c3c3c"/>
<rect x="61.88" y="313.67" width="1" height="1.6" fill="#3c3c3c"/>
<rect x="63.33" y="311.47" width="1" height="1.6" fill="#3c3c3c"/>
<rect x="63.15" y="318.37" width="1" height="1.6" fill="#3c3c3c"/>
<rect x="63.92" y="309.12" width="1" height="1.6" fill="#3c3c3c"/>
<rect x="65.81" y="313.75" width="1" height="1.6" fill="#3c3c3c"/>
<rect x="66.3" y="320.17" width="1" height="1.6" fill="#3c3c3c"/>
<rect x="66.83" y="315.73" width="1" height="1.6" fill="#3c3c3c"/>
<rect x="68.05" y="307.8" width="1" height="1.6" fill="#3c3c3c"/>
<rect x="67.92" y="313.38" width="1" height="1.6" fill="#3c3c3c"/>
<rect x="68.36" y="317.67" width="1" height="1.6" fill="#3c3c3c"/>
<rect x="69.3" y="316.28" width="1" height="1.6" fill="#3c3c3c"/>
<rect x="69.25" y="317.67" width="1" height="1.6" fill="#3c3c3c"/>
<rect x="69.02" y="320.16" width="1" height="1.6" fill="#3c3c3c"/>
<rect x="70.24" y="315.85" width="1" height="1.6" fill="#3c3c3c"/>
<rect x="70.89" y="307.05" width="1" height="1.6" fill="#3c3c3c"/>
<rect x="71.1" y="313.77" width="1" height="1.6" fill="#3c3c3c"/>
<rect x="71.83" y="305.22" width="1" height="1.6" fill="#3c3c3c"/>
<rect x="72.09" y="317.79" width="1" height="1.6" fill="#3c3c3c"/>
<rect x="100.2" y="313.81" width="1" height="1.6" fill="#3c3c3c"/>
<rect x="101" y="315.94" width="1" height="1.6" fill="#3c3c3c"/>
<rect x="101.93" y="305.11" width="1" height="1.6" fill="#3c3c3c"/>
<rect x="102.39" y="313.44" width="1" height="1.6" fill="#3c3c3c"/>
<rect x="102.15" y="317.78" width="1" height="1.6" fill="#3c3c3c"/>
<rect x="102.28" y="320.31" width="1" height="1.6" fill="#3c3c3c"/>
<rect x="103.27" y="305.28" width="1" height="1.6" fill="#3c3c3c"/>
<rect x="103.03" y="309.23" width="1" height="1.6" fill="#3c3c3c"/>
<rect x="103.96" y="307.65" width="1" height="1.6" fill="#3c3c3c"/>
<rect x="104.08" y="313.41" width="1" height="1.6" fill="#3c3c3c"/>
<rect x="103.86" y="315.39" width="1" height="1.6" fill="#3c3c3c"/>
<rect x="105.22" y="307.42" width="1" height="1.6" fill="#3c3c3c"/>
<rect x="105.11" y="311.59" width="1" height="1.6" fill="#3c3c3c"/>
<rect x="105.33" y="317.76" width="1" height="1.6" fill="#3c3c3c"/>
<rect x="105.17" y="320.06" width="1" height="1.6" fill="#3c3c3c"/>
<rect x="105.85" y="305.76" width="1" height="1.6" fill="#3c3c3c"/>
<rect x="106.19" y="309.53" width="1" height="1.6" fill="#3c3c3c"/>
<rect x="106" y="311.95" width="1" height="1.6" fill="#3c3c3c"/>
<rect x="106.05" y="314.16" width="1" height="1.6" fill="#3c3c3c"/>
<rect x="106.2" y="320.16" width="1" height="1.6" fill="#3c3c3c"/>
<rect x="107.27" y="309.46" width="1" height="1.6" fill="#3c3c3c"/>
<rect x="106.93" y="318.36" width="1" height="1.6" fill="#3c3c3c"/>
<rect x="107.9" y="311.75" width="1" height="1.6" fill="#3c3c3c"/>
<rect x="108.19" y="315.44" width="1" height="1.6" fill="#3c3c3c"/>
<rect x="108.11" y="319.81" width="1" height="1.6" fill="#3c3c3c"/>
<rect x="109.09" y="307.52" width="1" height="1.6" fill="#3c3c3c"/>
<rect x="108.99" y="309.68" width="1" height="1.6" fill="#3c3c3c"/>
<rect x="109.07" y="320.33" width="1" height="1.6" fill="#3c3c3c"/>
<rect x="110.17" y="319.53" width="1" height="1.6" fill="#3c3c3c"/>
<rect x="111.31" y="311.28" width="1" height="1.6" fill="#3c3c3c"/>
<rect x="111.33" y="317.84" width="1" height="1.6" fill="#3c3c3c"/>
<rect x="112.34" y="311.44" width="1" height="1.6" fill="#3c3c3c"/>
<rect x="112" y="313.27" width="1" height="1.6" fill="#3c3c3c"/>
<rect x="112.17" y="315.42" width="1" height="1.6" fill="#3c3c3c"/>
<rect x="111.98" y="317.68" width="1" height="1.6" fill="#3c3c3c"/>
<rect x="113.36" y="316.11" width="1" height="1.6" fill="#3c3c3c"/>
<rect x="112.85" y="320.43" width="1" height="1.6" fill="#3c3c3c"/>
<rect x="114.22" y="311.56" width="1" height="1.6" fill="#3c3c3c"/>
<rect x="114.37" y="317.68" width="1" height="1.6" fill="#3c3c3c"/>
<rect x="115.22" y="307.3" width="1" height="1.6" fill="#3c3c3c"/>
<rect x="114.93" y="309.95" width="1" height="1.6" fill="#3c3c3c"/>
<rect x="115.25" y="318.15" width="1" height="1.6" fill="#3c3c3c"/>
<rect x="116.01" y="307.63" width="1" height="1.6" fill="#3c3c3c"/>
<rect x="116.35" y="315.77" width="1" height="1.6" fill="#3c3c3c"/>
<rect x="117.23" y="305.15" width="1" height="1.6" fill="#3c3c3c"/>
<rect x="116.97" y="309.64" width="1" height="1.6" fill="#3c3c3c"/>
<rect x="117.06" y="317.4" width="1" height="1.6" fill="#3c3c3c"/>
<rect x="118.3" y="305.35" width="1" height="1.6" fill="#3c3c3c"/>
<rect x="118.27" y="311.39" width="1" height="1.6" fill="#3c3c3c"/>
<rect x="118.86" y="311.51" width="1" height="1.6" fill="#3c3c3c"/>
<rect x="118.93" y="316.17" width="1" height="1.6" fill="#3c3c3c"/>
<rect x="118.91" y="320.08" width="1" height="1.6" fill="#3c3c3c"/>
<rect x="120.09" y="305.34" width="1" height="1.6" fill="#3c3c3c"/>
<rect x="120.36" y="313.4" width="1" height="1.6" fill="#3c3c3c"/>
<rect x="120.26" y="315.87" width="1" height="1.6" fill="#3c3c3c"/>
<rect x="122.19" y="305.49" width="1" height="1.6" fill="#3c3c3c"/>
<rect x="122.13" y="307.63" width="1" height="1.6" fill="#3c3c3c"/>
<rect x="122.3" y="309.87" width="1" height="1.6" fill="#3c3c3c"/>
<rect x="121.95" y="311.18" width="1" height="1.6" fill="#3c3c3c"/>
<rect x="122.09" y="315.55" width="1" height="1.6" fill="#3c3c3c"/>
<rect x="122.93" y="311.11" width="1" height="1.6" fill="#3c3c3c"/>
<rect x="123.22" y="316.08" width="1" height="1.6" fill="#3c3c3c"/>
<rect x="124.25" y="305.21" width="1" height="1.6" fill="#3c3c3c"/>
<rect x="124.37" y="313.71" width="1" height="1.6" fill="#3c3c3c"/>
<rect x="125.04" y="309.89" width="1" height="1.6" fill="#3c3c3c"/>
<rect x="126.02" y="311.98" width="1" height="1.6" fill="#3c3c3c"/>
<rect x="126.18" y="315.93" width="1" height="1.6" fill="#3c3c3c"/>
<rect x="126.98" y="305.51" width="1" height="1.6" fill="#3c3c3c"/>
<rect x="127.06" y="317.72" width="1" height="1.6" fill="#3c3c3c"/>
<rect x="128.2" y="307.19" width="1" height="1.6" fill="#3c3c3c"/>
<rect x="128.24" y="317.47" width="1" height="1.6" fill="#3c3c3c"/>
<rect x="129.23" y="305.17" width="1" height="1.6" fill="#3c3c3c"/>
<rect x="129.04" y="307.4" width="1" height="1.6" fill="#3c3c3c"/>
<rect x="129.11" y="311.4" width="1" height="1.6" fill="#3c3c3c"/>
<rect x="129.83" y="319.95" width="1" height="1.6" fill="#3c3c3c"/>
<rect x="131.11" y="315.73" width="1" height="1.6" fill="#3c3c3c"/>
<rect x="132.07" y="312.02" width="1" height="1.6" fill="#3c3c3c"/>
<rect x="132.35" y="319.61" width="1" height="1.6" fill="#3c3c3c"/>
<rect x="133.03" y="309.13" width="1" height="1.6" fill="#3c3c3c"/>
<rect x="132.89" y="313.42" width="1" height="1.6" fill="#3c3c3c"/>
<rect x="132.85" y="315.49" width="1" height="1.6" fill="#3c3c3c"/>
<rect x="133.29" y="319.92" width="1" height="1.6" fill="#3c3c3c"/>
<rect x="134.25" y="311.2" width="1" height="1.6" fill="#3c3c3c"/>
<rect x="134.84" y="305.49" width="1" height="1.6" fill="#3c3c3c"/>
<rect x="135.06" y="315.58" width="1" height="1.6" fill="#3c3c3c"/>
<rect x="136.28" y="309.5" width="1" height="1.6" fill="#3c3c3c"/>
<rect x="136.11" y="313.7" width="1" height="1.6" fill="#3c3c3c"/>
<rect x="138.32" y="317.58" width="1" height="1.6" fill="#3c3c3c"/>
<rect x="139.2" y="313.3" width="1" height="1.6" fill="#3c3c3c"/>
<rect x="139.91" y="305.76" width="1" height="1.6" fill="#3c3c3c"/>
<rect x="141.37" y="309.96" width="1" height="1.6" fill="#3c3c3c"/>
<rect x="142.89" y="317.97" width="1" height="1.6" fill="#3c3c3c"/>
<rect x="143.89" y="307.62" width="1" height="1.6" fill="#3c3c3c"/>
<rect x="145.06" y="307.28" width="1" height="1.6" fill="#3c3c3c"/>
<rect x="145.32" y="309.38" width="1" height="1.6" fill="#3c3c3c"/>
<rect x="145.38" y="311.33" width="1" height="1.6" fill="#3c3c3c"/>
<rect x="144.86" y="316.01" width="1" height="1.6" fill="#3c3c3c"/>
<rect x="146.31" y="317.42" width="1" height="1.6" fill="#3c3c3c"/>
<rect x="147.12" y="313.47" width="1" height="1.6" fill="#3c3c3c"/>
<rect x="149" y="309.71" width="1" height="1.6" fill="#3c3c3c"/>
<rect x="150.17" y="314.01" width="1" height="1.6" fill="#3c3c3c"/>
<rect x="150.88" y="305.29" width="1" height="1.6" fill="#3c3c3c"/>
<rect x="151.38" y="319.67" width="1" height="1.6" fill="#3c3c3c"/>
<rect x="152.07" y="304.82" width="1" height="1.6" fill="#3c3c3c"/>
<rect x="153.86" y="311.16" width="1" height="1.6" fill="#3c3c3c"/>
<rect x="155.03" y="311.36" width="1" height="1.6" fill="#3c3c3c"/>
<rect x="155.13" y="315.68" width="1" height="1.6" fill="#3c3c3c"/>
<rect x="156.24" y="305.6" width="1" height="1.6" fill="#3c3c3c"/>
<rect x="156.16" y="309.87" width="1" height="1.6" fill="#3c3c3c"/>
<rect x="156.33" y="315.97" width="1" height="1.6" fill="#3c3c3c"/>
<rect x="158.08" y="320.05" width="1" height="1.6" fill="#3c3c3c"/>
<rect x="159.99" y="305.68" width="1" height="1.6" fill="#3c3c3c"/>
<rect x="160.27" y="306.93" width="1" height="1.6" fill="#3c3c3c"/>
<rect x="162.14" y="313.97" width="1" height="1.6" fill="#3c3c3c"/>
<rect x="161.96" y="317.89" width="1" height="1.6" fill="#3c3c3c"/>
<rect x="163.3" y="305.2" width="1" height="1.6" fill="#3c3c3c"/>
<rect x="163" y="311.26" width="1" height="1.6" fill="#3c3c3c"/>
<rect x="162.98" y="313.9" width="1" height="1.6" fill="#3c3c3c"/>
<rect x="163.28" y="317.91" width="1" height="1.6" fill="#3c3c3c"/>
<rect x="163.29" y="320.32" width="1" height="1.6" fill="#3c3c3c"/>
<rect x="164.32" y="314.03" width="1" height="1.6" fill="#3c3c3c"/>
<rect x="164.26" y="316.07" width="1" height="1.6" fill="#3c3c3c"/>
<rect x="166.32" y="314.09" width="1" height="1.6" fill="#3c3c3c"/>
<rect x="167.27" y="305.57" width="1" height="1.6" fill="#3c3c3c"/>
<rect x="166.97" y="309.77" width="1" height="1.6" fill="#3c3c3c"/>
<rect x="166.86" y="315.65" width="1" height="1.6" fill="#3c3c3c"/>
<rect x="166.84" y="320.25" width="1" height="1.6" fill="#3c3c3c"/>
<rect x="168.2" y="304.88" width="1" height="1.6" fill="#3c3c3c"/>
<rect x="168" y="317.64" width="1" height="1.6" fill="#3c3c3c"/>
<rect x="169.03" y="313.49" width="1" height="1.6" fill="#3c3c3c"/>
<rect x="171.1" y="316.07" width="1" height="1.6" fill="#3c3c3c"/>
<rect x="171.06" y="318.39" width="1" height="1.6" fill="#3c3c3c"/>
<rect x="172.18" y="313.94" width="1" height="1.6" fill="#3c3c3c"/>
<rect x="174.35" y="307.54" width="1" height="1.6" fill="#3c3c3c"/>
<rect x="174.31" y="316.12" width="1" height="1.6" fill="#3c3c3c"/>
<rect x="175.39" y="319.72" width="1" height="1.6" fill="#3c3c3c"/>
<rect x="175.84" y="320.02" width="1" height="1.6" fill="#3c3c3c"/>
<rect x="177.36" y="317.99" width="1" height="1.6" fill="#3c3c3c"/>
<rect x="178.9" y="305.15" width="1" height="1.6" fill="#3c3c3c"/>
<rect x="179.84" y="305.47" width="1" height="1.6" fill="#3c3c3c"/>
<rect x="180.13" y="318.05" width="1" height="1.6" fill="#3c3c3c"/>
<rect x="181.09" y="304.83" width="1" height="1.6" fill="#3c3c3c"/>
<rect x="180.91" y="318.22" width="1" height="1.6" fill="#3c3c3c"/>
<rect x="183" y="313.43" width="1" height="1.6" fill="#3c3c3c"/>
<rect x="183.07" y="318.27" width="1" height="1.6" fill="#3c3c3c"/>
<rect x="185.33" y="315.33" width="1" height="1.6" fill="#3c3c3c"/>
<rect x="186.26" y="319.72" width="1" height="1.6" fill="#3c3c3c"/>
<rect x="186.96" y="307.57" width="1" height="1.6" fill="#3c3c3c"/>
<rect x="188.01" y="318.13" width="1" height="1.6" fill="#3c3c3c"/>
<rect x="189.24" y="304.92" width="1" height="1.6" fill="#3c3c3c"/>
<rect x="188.86" y="309.25" width="1" height="1.6" fill="#3c3c3c"/>
<rect x="190" y="317.72" width="1" height="1.6" fill="#3c3c3c"/>
<rect x="191.3" y="309.31" width="1" height="1.6" fill="#3c3c3c"/>
<rect x="191.34" y="311.37" width="1" height="1.6" fill="#3c3c3c"/>
<rect x="191.02" y="315.42" width="1" height="1.6" fill="#3c3c3c"/>
<rect x="190.95" y="317.98" width="1" height="1.6" fill="#3c3c3c"/>
<rect x="193.33" y="309.61" width="1" height="1.6" fill="#3c3c3c"/>
<rect x="193.36" y="311.99" width="1" height="1.6" fill="#3c3c3c"/>
<rect x="193.22" y="313.44" width="1" height="1.6" fill="#3c3c3c"/>
<rect x="62.48" y="322.9" width="131.25" height="3.4" fill="#F5DE2A"/>
<line x1="53.1" y1="323.3" x2="193.72" y2="323.3" stroke="#999" stroke-width="1"/>
<line x1="53.1" y1="323.3" x2="53.1" y2="394.9" stroke="#333" stroke-width="1"/>
<line x1="52.6" y1="394.4" x2="193.72" y2="394.4" stroke="#000" stroke-width="1.2"/>
<line x1="62.48" y1="394.4" x2="62.48" y2="397.2" stroke="#000" stroke-width="1"/>
<line x1="81.22" y1="394.4" x2="81.22" y2="397.2" stroke="#000" stroke-width="1"/>
<line x1="99.97" y1="394.4" x2="99.97" y2="397.2" stroke="#000" stroke-width="1"/>
<line x1="118.72" y1="394.4" x2="118.72" y2="397.2" stroke="#000" stroke-width="1"/>
<line x1="137.47" y1="394.4" x2="137.47" y2="397.2" stroke="#000" stroke-width="1"/>
<line x1="156.22" y1="394.4" x2="156.22" y2="397.2" stroke="#000" stroke-width="1"/>
<line x1="174.97" y1="394.4" x2="174.97" y2="397.2" stroke="#000" stroke-width="1"/>
<line x1="193.72" y1="394.4" x2="193.72" y2="397.2" stroke="#000" stroke-width="1"/>
<line x1="50.9" y1="394.4" x2="53.1" y2="394.4" stroke="#000" stroke-width="1"/>
<text x="45.6" y="398.8" font-size="12.8" text-anchor="end" fill="#000">0</text>
<line x1="50.9" y1="327.84" x2="53.1" y2="327.84" stroke="#000" stroke-width="1"/>
<text x="45.6" y="332.24" font-size="12.8" text-anchor="end" fill="#000">160</text>
<text x="62.48" y="412.7" font-size="12.8" text-anchor="middle" fill="#000">0</text>
<text x="99.97" y="412.7" font-size="12.8" text-anchor="middle" fill="#000">100</text>
<text x="137.47" y="412.7" font-size="12.8" text-anchor="middle" fill="#000">200</text>
<text x="174.97" y="412.7" font-size="12.8" text-anchor="middle" fill="#000">300</text>
<line x1="62.48" y1="306.4" x2="62.48" y2="394.4" stroke="#3a3a3a" stroke-width="1.1"/>
<line x1="70.72" y1="306.4" x2="70.72" y2="394.4" stroke="#33A6C9" stroke-width="1.4"/>
<polyline points="53.4,385.5 70,385.5 90,385.3 105,384 115,382 122.6,381 130,382.5 136,385 150,384.5 165,384 180,383.5 193.5,383" fill="none" stroke="#2a2a2a" stroke-width="1.05" stroke-dasharray="3.8,4.2"/>
<polyline points="53.4,389.3 56.9,381.1 60.7,383.4 62.8,379 67,376.5 71.5,371.8 75.3,394.4 97.8,394.4 100.7,383.4 105.1,385.5 109.5,380.5 112.4,371.8 116.8,352.8 119.5,349.9 125,349.9 128.5,364.5 132,366.5 136.6,380.5 140.1,383.4 144.5,383.4 147.4,380.5 151.8,381.1 154.7,383.4 157.7,366.5 162,371.8 166.4,371.8 169.3,374.7 172.8,366.5 176.6,383.4 180.4,371.8 183.9,371.8 187.7,383.4 191.2,371.8 193.6,373.2" fill="none" stroke="#000" stroke-width="1.8" stroke-linejoin="miter" stroke-miterlimit="3"/>
<rect x="236.54" y="306.86" width="1" height="1.6" fill="#3c3c3c"/>
<rect x="242.02" y="307.96" width="1" height="1.6" fill="#3c3c3c"/>
<rect x="249.68" y="318.91" width="1" height="1.6" fill="#3c3c3c"/>
<rect x="250.78" y="305.77" width="1" height="1.6" fill="#3c3c3c"/>
<rect x="251.87" y="304.67" width="1" height="1.6" fill="#3c3c3c"/>
<rect x="252.97" y="312.34" width="1" height="1.6" fill="#3c3c3c"/>
<rect x="254.06" y="309.05" width="1" height="1.6" fill="#3c3c3c"/>
<rect x="254.06" y="315.62" width="1" height="1.6" fill="#3c3c3c"/>
<rect x="255.15" y="314.53" width="1" height="1.6" fill="#3c3c3c"/>
<rect x="256.25" y="316.72" width="1" height="1.6" fill="#3c3c3c"/>
<rect x="257.34" y="320" width="1" height="1.6" fill="#3c3c3c"/>
<rect x="277.05" y="308.4" width="1" height="1.6" fill="#3c3c3c"/>
<rect x="295.66" y="310.15" width="1" height="1.6" fill="#3c3c3c"/>
<rect x="300.04" y="318.91" width="1" height="1.6" fill="#3c3c3c"/>
<rect x="301.14" y="307.96" width="1" height="1.6" fill="#3c3c3c"/>
<rect x="304.42" y="321.1" width="1" height="1.6" fill="#3c3c3c"/>
<rect x="305.52" y="311.24" width="1" height="1.6" fill="#3c3c3c"/>
<rect x="315.37" y="306.86" width="1" height="1.6" fill="#3c3c3c"/>
<rect x="317.56" y="311.24" width="1" height="1.6" fill="#3c3c3c"/>
<rect x="318.65" y="310.15" width="1" height="1.6" fill="#3c3c3c"/>
<rect x="329.6" y="309.05" width="1" height="1.6" fill="#3c3c3c"/>
<rect x="330.7" y="313.43" width="1" height="1.6" fill="#3c3c3c"/>
<rect x="331.79" y="309.05" width="1" height="1.6" fill="#3c3c3c"/>
<rect x="333.98" y="320" width="1" height="1.6" fill="#3c3c3c"/>
<rect x="335.08" y="309.05" width="1" height="1.6" fill="#3c3c3c"/>
<rect x="336.17" y="312.34" width="1" height="1.6" fill="#3c3c3c"/>
<rect x="338.36" y="309.05" width="1" height="1.6" fill="#3c3c3c"/>
<rect x="339.46" y="321.1" width="1" height="1.6" fill="#3c3c3c"/>
<rect x="341.64" y="311.24" width="1" height="1.6" fill="#3c3c3c"/>
<rect x="343.83" y="312.34" width="1" height="1.6" fill="#3c3c3c"/>
<rect x="344.93" y="320" width="1" height="1.6" fill="#3c3c3c"/>
<rect x="347.12" y="309.05" width="1" height="1.6" fill="#3c3c3c"/>
<rect x="348.21" y="315.62" width="1" height="1.6" fill="#3c3c3c"/>
<rect x="350.4" y="310.15" width="1" height="1.6" fill="#3c3c3c"/>
<rect x="351.5" y="313.43" width="1" height="1.6" fill="#3c3c3c"/>
<rect x="353.69" y="309.05" width="1" height="1.6" fill="#3c3c3c"/>
<rect x="355.88" y="305.77" width="1" height="1.6" fill="#3c3c3c"/>
<rect x="358.07" y="315.62" width="1" height="1.6" fill="#3c3c3c"/>
<rect x="359.16" y="311.24" width="1" height="1.6" fill="#3c3c3c"/>
<rect x="361.35" y="305.77" width="1" height="1.6" fill="#3c3c3c"/>
<rect x="364.64" y="320" width="1" height="1.6" fill="#3c3c3c"/>
<rect x="366.83" y="310.15" width="1" height="1.6" fill="#3c3c3c"/>
<rect x="237.68" y="322.9" width="131.25" height="3.4" fill="#F5DE2A"/>
<line x1="228.3" y1="323.3" x2="368.93" y2="323.3" stroke="#999" stroke-width="1"/>
<line x1="228.3" y1="323.3" x2="228.3" y2="394.9" stroke="#333" stroke-width="1"/>
<line x1="227.8" y1="394.4" x2="368.93" y2="394.4" stroke="#000" stroke-width="1.2"/>
<line x1="237.68" y1="394.4" x2="237.68" y2="397.2" stroke="#000" stroke-width="1"/>
<line x1="256.43" y1="394.4" x2="256.43" y2="397.2" stroke="#000" stroke-width="1"/>
<line x1="275.18" y1="394.4" x2="275.18" y2="397.2" stroke="#000" stroke-width="1"/>
<line x1="293.93" y1="394.4" x2="293.93" y2="397.2" stroke="#000" stroke-width="1"/>
<line x1="312.68" y1="394.4" x2="312.68" y2="397.2" stroke="#000" stroke-width="1"/>
<line x1="331.43" y1="394.4" x2="331.43" y2="397.2" stroke="#000" stroke-width="1"/>
<line x1="350.18" y1="394.4" x2="350.18" y2="397.2" stroke="#000" stroke-width="1"/>
<line x1="368.93" y1="394.4" x2="368.93" y2="397.2" stroke="#000" stroke-width="1"/>
<line x1="226.1" y1="394.4" x2="228.3" y2="394.4" stroke="#000" stroke-width="1"/>
<text x="220.8" y="398.8" font-size="12.8" text-anchor="end" fill="#000">0</text>
<line x1="226.1" y1="336" x2="228.3" y2="336" stroke="#000" stroke-width="1"/>
<text x="220.8" y="340.4" font-size="12.8" text-anchor="end" fill="#000">50</text>
<text x="237.68" y="412.7" font-size="12.8" text-anchor="middle" fill="#000">0</text>
<text x="275.18" y="412.7" font-size="12.8" text-anchor="middle" fill="#000">100</text>
<text x="312.68" y="412.7" font-size="12.8" text-anchor="middle" fill="#000">200</text>
<text x="350.18" y="412.7" font-size="12.8" text-anchor="middle" fill="#000">300</text>
<line x1="237.68" y1="306.4" x2="237.68" y2="394.4" stroke="#3a3a3a" stroke-width="1.1"/>
<line x1="245.93" y1="306.4" x2="245.93" y2="394.4" stroke="#33A6C9" stroke-width="1.4"/>
<polyline points="228.8,388.5 239.9,386.5 251,385.7 262.1,387.6 273.2,386.5 284.3,385.7 295.4,385.7 306.5,386.5 317.6,387.1 328.7,388.5 339.8,387.1 350.9,385.7 362,386.5 368.4,385.7" fill="none" stroke="#2a2a2a" stroke-width="1.05" stroke-dasharray="3.8,4.2"/>
<polyline points="228.8,388.5 232.2,394.4 235.8,394.4 239.4,381.5 245.5,394.4 249.6,374.6 254.6,344.1 258.8,381.5 262.7,394.4 273.2,394.4 277.4,387.6 281,394.4 292.6,394.4 299.6,381.5 304.3,381.5 310.7,394.4 318.4,381.5 323.1,394.4 326.5,394.4 329.5,381.5 334.2,381.5 337,387.6 341.2,376 345.3,381.5 349.5,381.5 352.3,387.6 356.4,387.6 359.8,376 363.4,387.6 366.1,376 368.4,387.6" fill="none" stroke="#000" stroke-width="1.8" stroke-linejoin="miter" stroke-miterlimit="3"/>
<text x="13.8" y="234.4" font-size="12.9" text-anchor="middle" fill="#000" transform="rotate(-90 13.8 234.4)">Firing rate (Hz)</text>
<text x="200.85" y="430.6" font-size="12.9" text-anchor="middle" fill="#000">Time post-inhalation (ms)</text>
<text x="399.4" y="13.6" font-size="18.6" text-anchor="start" fill="#000" font-weight="bold">b</text>
<line x1="446.6" y1="16.8" x2="446.6" y2="165.1" stroke="#000" stroke-width="1.1"/>
<line x1="446.6" y1="164.5" x2="644.1" y2="164.5" stroke="#000" stroke-width="1.1"/>
<line x1="442" y1="148.4" x2="446.6" y2="148.4" stroke="#000" stroke-width="1"/>
<text x="437" y="153.2" font-size="12.8" text-anchor="end" fill="#000">0</text>
<line x1="442" y1="16.8" x2="446.6" y2="16.8" stroke="#000" stroke-width="1"/>
<text x="437" y="21.6" font-size="12.8" text-anchor="end" fill="#000">80</text>
<line x1="464.4" y1="164.5" x2="464.4" y2="169" stroke="#000" stroke-width="1"/>
<text x="464.4" y="183.8" font-size="12.8" text-anchor="middle" fill="#000">0</text>
<line x1="509.32" y1="164.5" x2="509.32" y2="169" stroke="#000" stroke-width="1"/>
<text x="509.32" y="183.8" font-size="12.8" text-anchor="middle" fill="#000">50</text>
<line x1="554.25" y1="164.5" x2="554.25" y2="169" stroke="#000" stroke-width="1"/>
<text x="554.25" y="183.8" font-size="12.8" text-anchor="middle" fill="#000">100</text>
<line x1="599.17" y1="164.5" x2="599.17" y2="169" stroke="#000" stroke-width="1"/>
<text x="599.17" y="183.8" font-size="12.8" text-anchor="middle" fill="#000">150</text>
<line x1="644.1" y1="164.5" x2="644.1" y2="169" stroke="#000" stroke-width="1"/>
<text x="644.1" y="183.8" font-size="12.8" text-anchor="middle" fill="#000">200</text>
<text x="546.5" y="202.9" font-size="12.9" text-anchor="middle" fill="#000">Time post stimulus (ms)</text>
<text x="411" y="91" font-size="12.9" text-anchor="middle" fill="#000" transform="rotate(-90 411 91)">Mean firing rate (Hz)</text>
<line x1="447.8" y1="148.3" x2="644.1" y2="148.3" stroke="#000" stroke-width="1.2" stroke-dasharray="5.5,6.35"/>
<polyline points="446.4,151.3 447.3,146 448.6,143.4 449.9,146.7 451.2,142.3 452.5,144.4 454.5,146.7 456.5,145.4 457.8,149.3 459.1,146.7 460.4,149.3 461.7,152.6 463.1,146 464.4,150.6 465.7,148 467,151.9 468,147.3 469,139.5 470,132.9 470.7,125 471.2,78 472.3,96.2 473.4,106.5 474.3,85.2 475.5,78.8 476.6,40.8 477.8,39.2 478.6,35.3 479.7,39.2 480.2,36.9 481,44 482.3,64.6 483.4,88.3 484.5,93.1 485.4,116 486.1,116.8 486.9,130.1 488,139.5 489.3,153.2 490.6,139.5 492,132.9 492.4,130.1 493.7,115.2 495.2,110.5 496,105.7 496.8,119.2 497.6,93.1 498.4,89.9 499.5,94.7 500.8,89.9 501.9,96.2 503.2,99.4 504,107.3 504.7,101 505.5,104.2 506.3,107.3 507.1,106.5 507.9,110.5 508.7,120 509.5,123.1 510.3,129.5 510.4,130.3 511.7,139.5 513,136.8 515,138.1 516.3,144.7 517.6,146.7 519.5,148 521.5,149.3 523.5,150.6 525.2,143.4 526.1,153.2 527,157.2 528.1,149.3 529.4,153.2 530.7,149.3 531.8,150 531.75,149.89 532.63,149.02 534.38,157.78 536.13,155.15 537.88,161.28 539.64,156.9 541.39,162.15 543.14,157.78 544.89,161.28 546.64,155.15 547.52,161.28 549.27,158.65 551.02,163.03 552.78,161.28 554.53,163.91 556.28,159.53 558.03,161.28 559.78,149.02 560.66,163.03 562.41,157.78 564.16,161.28 565.91,160.4 567.67,162.15 569.42,160.4 571.17,161.28 572.92,157.78 574.67,161.28 576.43,157.78 577.74,156.8 579.05,160.4 580.81,149.02 581.68,159.53 583.43,154.27 585.19,162.15 586.94,155.15 588.69,161.28 590.44,156.02 592.19,163.03 593.95,154.27 595.7,157.78 597.45,152.52 599.2,163.91 600.08,152.52 601.83,140.26 603.23,152.52 604.46,159.53 606.21,151.64 607.96,156.02 609.71,149.89 611.46,152.52 613.22,150.77 614.97,156.02 616.72,152.52 618.47,163.03 620.22,146.39 621.1,157.78 622.85,145.51 624.6,154.27 625.48,149.02 627.23,157.78 628.98,151.64 630.74,152.52 632.05,149.94 633.36,150.77 635.12,156.9 636.87,156.9 638.62,150.77 640.02,144.64 641.25,152.52 642.65,163.03" fill="none" stroke="#000" stroke-width="1.5" stroke-linejoin="round"/>
<line x1="464.4" y1="16.8" x2="464.4" y2="164.5" stroke="#33A6C9" stroke-width="1.4"/>
<text x="399.8" y="236.9" font-size="18.6" text-anchor="start" fill="#000" font-weight="bold">c</text>
<polyline points="446.7,388.3 449.3,387.7 452.5,384.9 455.7,383.8 462.1,383.8 466.4,381 469.6,378 471.8,365.6 473.9,350.6 477.1,335.6 481.4,320.6 485.7,313.2 491,304.6 494.7,301.4 498.5,280 502.8,271.4 507.1,263.9 510.3,260.7 514,258.7 519.1,255.6 538.3,255.6 547.3,252.5 552.4,251.8 558.8,248.4 563.9,244.1 567.7,242.3 581.8,242.3 587,241.6 598.5,241.6" fill="none" stroke="#000" stroke-width="3" stroke-linejoin="round"/>
<rect x="453.17" y="361.11" width="3.28" height="27.49" fill="#188A43" fill-opacity="0.42" stroke="#3d6a50" stroke-opacity="0.25" stroke-width="0.6"/>
<rect x="456.45" y="379.44" width="3.28" height="9.16" fill="#188A43" fill-opacity="0.42" stroke="#3d6a50" stroke-opacity="0.25" stroke-width="0.6"/>
<rect x="466.3" y="370.28" width="3.28" height="18.32" fill="#188A43" fill-opacity="0.42" stroke="#3d6a50" stroke-opacity="0.25" stroke-width="0.6"/>
<rect x="469.59" y="370.28" width="3.28" height="18.32" fill="#188A43" fill-opacity="0.42" stroke="#3d6a50" stroke-opacity="0.25" stroke-width="0.6"/>
<rect x="472.87" y="251.16" width="3.28" height="137.44" fill="#188A43" fill-opacity="0.42" stroke="#3d6a50" stroke-opacity="0.25" stroke-width="0.6"/>
<rect x="476.16" y="251.16" width="3.28" height="137.44" fill="#188A43" fill-opacity="0.42" stroke="#3d6a50" stroke-opacity="0.25" stroke-width="0.6"/>
<rect x="479.44" y="306.14" width="3.28" height="82.46" fill="#188A43" fill-opacity="0.42" stroke="#3d6a50" stroke-opacity="0.25" stroke-width="0.6"/>
<rect x="482.72" y="324.46" width="3.28" height="64.14" fill="#188A43" fill-opacity="0.42" stroke="#3d6a50" stroke-opacity="0.25" stroke-width="0.6"/>
<rect x="486.01" y="351.95" width="3.28" height="36.65" fill="#188A43" fill-opacity="0.42" stroke="#3d6a50" stroke-opacity="0.25" stroke-width="0.6"/>
<rect x="489.29" y="351.95" width="3.28" height="36.65" fill="#188A43" fill-opacity="0.42" stroke="#3d6a50" stroke-opacity="0.25" stroke-width="0.6"/>
<rect x="492.58" y="361.11" width="3.28" height="27.49" fill="#188A43" fill-opacity="0.42" stroke="#3d6a50" stroke-opacity="0.25" stroke-width="0.6"/>
<rect x="495.86" y="306.14" width="3.28" height="82.46" fill="#188A43" fill-opacity="0.42" stroke="#3d6a50" stroke-opacity="0.25" stroke-width="0.6"/>
<rect x="499.14" y="306.14" width="3.28" height="82.46" fill="#188A43" fill-opacity="0.42" stroke="#3d6a50" stroke-opacity="0.25" stroke-width="0.6"/>
<rect x="502.43" y="351.95" width="3.28" height="36.65" fill="#188A43" fill-opacity="0.42" stroke="#3d6a50" stroke-opacity="0.25" stroke-width="0.6"/>
<rect x="505.71" y="342.79" width="3.28" height="45.81" fill="#188A43" fill-opacity="0.42" stroke="#3d6a50" stroke-opacity="0.25" stroke-width="0.6"/>
<rect x="509" y="361.11" width="3.28" height="27.49" fill="#188A43" fill-opacity="0.42" stroke="#3d6a50" stroke-opacity="0.25" stroke-width="0.6"/>
<rect x="512.28" y="361.11" width="3.28" height="27.49" fill="#188A43" fill-opacity="0.42" stroke="#3d6a50" stroke-opacity="0.25" stroke-width="0.6"/>
<rect x="518.85" y="370.28" width="3.28" height="18.32" fill="#188A43" fill-opacity="0.42" stroke="#3d6a50" stroke-opacity="0.25" stroke-width="0.6"/>
<rect x="541.84" y="379.44" width="3.28" height="9.16" fill="#188A43" fill-opacity="0.42" stroke="#3d6a50" stroke-opacity="0.25" stroke-width="0.6"/>
<rect x="545.12" y="379.44" width="3.28" height="9.16" fill="#188A43" fill-opacity="0.42" stroke="#3d6a50" stroke-opacity="0.25" stroke-width="0.6"/>
<rect x="548.4" y="379.44" width="3.28" height="9.16" fill="#188A43" fill-opacity="0.42" stroke="#3d6a50" stroke-opacity="0.25" stroke-width="0.6"/>
<rect x="554.97" y="379.44" width="3.28" height="9.16" fill="#188A43" fill-opacity="0.42" stroke="#3d6a50" stroke-opacity="0.25" stroke-width="0.6"/>
<rect x="558.26" y="379.44" width="3.28" height="9.16" fill="#188A43" fill-opacity="0.42" stroke="#3d6a50" stroke-opacity="0.25" stroke-width="0.6"/>
<rect x="561.54" y="361.11" width="3.28" height="27.49" fill="#188A43" fill-opacity="0.42" stroke="#3d6a50" stroke-opacity="0.25" stroke-width="0.6"/>
<rect x="564.82" y="379.44" width="3.28" height="9.16" fill="#188A43" fill-opacity="0.42" stroke="#3d6a50" stroke-opacity="0.25" stroke-width="0.6"/>
<rect x="568.11" y="379.44" width="3.28" height="9.16" fill="#188A43" fill-opacity="0.42" stroke="#3d6a50" stroke-opacity="0.25" stroke-width="0.6"/>
<rect x="587.81" y="379.44" width="3.28" height="9.16" fill="#188A43" fill-opacity="0.42" stroke="#3d6a50" stroke-opacity="0.25" stroke-width="0.6"/>
<line x1="446.6" y1="242" x2="643.6" y2="242" stroke="#333" stroke-width="1.3"/>
<line x1="446.6" y1="242" x2="446.6" y2="389.1" stroke="#000" stroke-width="1.1"/>
<line x1="643.6" y1="242" x2="643.6" y2="389.1" stroke="#000" stroke-width="1.1"/>
<line x1="446.6" y1="388.6" x2="643.6" y2="388.6" stroke="#000" stroke-width="1.1"/>
<line x1="442" y1="388.6" x2="446.6" y2="388.6" stroke="#000" stroke-width="1"/>
<text x="436.5" y="393" font-size="12.8" text-anchor="end" fill="#000">0</text>
<line x1="442" y1="242" x2="446.6" y2="242" stroke="#000" stroke-width="1"/>
<text x="436.5" y="246.4" font-size="12.8" text-anchor="end" fill="#000">1</text>
<line x1="643.6" y1="388.6" x2="648.2" y2="388.6" stroke="#000" stroke-width="1"/>
<text x="652.6" y="393" font-size="12.8" text-anchor="start" fill="#2E9447">0</text>
<line x1="643.6" y1="315.3" x2="648.2" y2="315.3" stroke="#000" stroke-width="1"/>
<text x="652.6" y="319.7" font-size="12.8" text-anchor="start" fill="#2E9447">8</text>
<line x1="643.6" y1="242" x2="648.2" y2="242" stroke="#000" stroke-width="1"/>
<text x="652.6" y="246.4" font-size="12.8" text-anchor="start" fill="#2E9447">16</text>
<line x1="446.6" y1="388.6" x2="446.6" y2="393.1" stroke="#000" stroke-width="1"/>
<text x="446.6" y="409" font-size="12.8" text-anchor="middle" fill="#000">0</text>
<line x1="479.44" y1="388.6" x2="479.44" y2="393.1" stroke="#000" stroke-width="1"/>
<text x="479.44" y="409" font-size="12.8" text-anchor="middle" fill="#000">10</text>
<line x1="512.28" y1="388.6" x2="512.28" y2="393.1" stroke="#000" stroke-width="1"/>
<text x="512.28" y="409" font-size="12.8" text-anchor="middle" fill="#000">20</text>
<line x1="545.12" y1="388.6" x2="545.12" y2="393.1" stroke="#000" stroke-width="1"/>
<text x="545.12" y="409" font-size="12.8" text-anchor="middle" fill="#000">30</text>
<line x1="577.96" y1="388.6" x2="577.96" y2="393.1" stroke="#000" stroke-width="1"/>
<text x="577.96" y="409" font-size="12.8" text-anchor="middle" fill="#000">40</text>
<line x1="610.8" y1="388.6" x2="610.8" y2="393.1" stroke="#000" stroke-width="1"/>
<text x="610.8" y="409" font-size="12.8" text-anchor="middle" fill="#000">50</text>
<line x1="643.64" y1="388.6" x2="643.64" y2="393.1" stroke="#000" stroke-width="1"/>
<text x="643.64" y="409" font-size="12.8" text-anchor="middle" fill="#000">60</text>
<text x="545" y="427.2" font-size="12.9" text-anchor="middle" fill="#000">Time post-stimulus (ms)</text>
<text x="419" y="316" font-size="12.9" text-anchor="middle" fill="#000" transform="rotate(-90 419 316)">Cumulative fraction cells</text>
<text x="684.2" y="314.5" font-size="12.9" text-anchor="middle" fill="#2E9447" transform="rotate(-90 684.2 314.5)">Cell count</text>
<text x="-0.6" y="465.4" font-size="18.6" text-anchor="start" fill="#000" font-weight="bold">d</text>
<polygon points="63.27,534 71.93,534 80.6,515.86 89.27,506.79 97.94,500.74 106.6,497.26 115.27,491.67 123.94,493.18 132.6,488.64 141.27,481.84 149.94,476.55 158.6,474.88 167.27,473.68 175.94,472.62 184.6,472.01 193.27,470.5 201.94,470.5 210.61,470.5 219.27,470.5 227.94,470.5 236.61,470.5 245.27,470.5 253.94,470.5 262.61,470.5 271.28,470.5 279.94,470.5 288.61,470.5 297.28,470.5 305.94,470.5 314.61,470.5 323.28,470.5 331.94,470.5 340.61,470.5 349.28,470.5 357.95,470.5 357.95,484.56 349.28,484.56 340.61,484.56 331.94,484.56 323.28,484.56 314.61,484.56 305.94,484.56 297.28,484.56 288.61,484.56 279.94,484.56 271.28,493.18 262.61,493.18 253.94,493.18 245.27,493.18 236.61,496.2 227.94,495.9 219.27,496.81 210.61,497.72 201.94,498.47 193.27,500.74 184.6,502.25 175.94,503.76 167.27,505.28 158.6,507.24 149.94,510.87 141.27,521.91 132.6,532.49 123.94,536.27 115.27,534 106.6,538.54 97.94,543.08 89.27,553.66 80.6,568.33 71.93,594.03 63.27,583.14" fill="#9fd4ae" stroke="none" stroke-width="0" fill-opacity="0.3"/>
<polygon points="63.27,521.45 71.93,524.93 80.6,527.96 89.27,530.98 97.94,530.98 106.6,535.52 115.27,530.98 123.94,530.98 132.6,533.55 141.27,524.78 149.94,521.3 158.6,522.21 167.27,527.35 175.94,507.24 184.6,510.87 193.27,509.06 201.94,503.76 210.61,499.38 219.27,497.72 227.94,496.81 236.61,500.74 245.27,503.76 253.94,503.76 262.61,502.25 271.28,502.25 279.94,509.81 288.61,506.79 297.28,506.79 305.94,505.28 314.61,503.76 323.28,503.76 331.94,500.74 340.61,502.25 349.28,502.25 357.95,500.74 357.95,550.64 349.28,551.39 340.61,551.39 331.94,549.88 323.28,553.66 314.61,553.66 305.94,555.17 297.28,555.17 288.61,555.17 279.94,559.71 271.28,550.64 262.61,550.64 253.94,552.15 245.27,552.15 236.61,550.64 227.94,549.28 219.27,548.37 210.61,547.61 201.94,551.09 193.27,554.57 184.6,559.41 175.94,557.44 167.27,577.85 158.6,572.71 149.94,572.71 141.27,580.88 132.6,581.93 123.94,579.97 115.27,578.76 106.6,584.96 97.94,578.76 89.27,584.66 80.6,582.39 71.93,576.34 63.27,573.77" fill="#b0b2e4" stroke="none" stroke-width="0" fill-opacity="0.29"/>
<line x1="55" y1="546.1" x2="357.9" y2="546.1" stroke="#000" stroke-width="1.6" stroke-dasharray="5.3,5.6"/>
<polyline points="63.27,558.65 71.93,574.83 80.6,542.32 89.27,534 97.94,522.51 106.6,518.28 115.27,510.11 123.94,514.2 132.6,510.57 141.27,499.23 149.94,490.76 158.6,486.38 167.27,482.44 175.94,482.44 184.6,478.66 193.27,478.66 201.94,478.66 210.61,478.66 219.27,474.58 227.94,474.58 236.61,478.66 245.27,474.58 253.94,474.58 262.61,474.58 271.28,474.58 279.94,470.5 288.61,470.5 297.28,470.5 305.94,470.5 314.61,470.5 323.28,470.5 331.94,470.5 340.61,470.5 349.28,470.5 357.95,470.5" fill="none" stroke="#2E9545" stroke-width="1.6" stroke-linejoin="round"/>
<polyline points="63.27,546.1 71.93,550.33 80.6,553.66 89.27,562.13 97.94,554.42 106.6,562.13 115.27,554.42 123.94,554.42 132.6,558.2 141.27,558.2 149.94,546.1 158.6,546.1 167.27,554.26 175.94,530.38 184.6,534.46 193.27,530.38 201.94,526.6 210.61,518.73 219.27,518.73 227.94,518.73 236.61,522.66 245.27,526.44 253.94,526.44 262.61,522.66 271.28,522.66 279.94,534.46 288.61,530.38 297.28,530.38 305.94,530.38 314.61,526.44 323.28,526.44 331.94,522.66 340.61,526.44 349.28,526.44 357.95,522.66" fill="none" stroke="#4B50A8" stroke-width="1.6" stroke-linejoin="round"/>
<line x1="54.9" y1="471" x2="54.9" y2="622.3" stroke="#000" stroke-width="1.1"/>
<line x1="54.9" y1="621.7" x2="357.9" y2="621.7" stroke="#000" stroke-width="1.1"/>
<line x1="50.2" y1="621.7" x2="54.9" y2="621.7" stroke="#000" stroke-width="1"/>
<text x="45.5" y="626.1" font-size="12.8" text-anchor="end" fill="#000">0.00</text>
<line x1="50.2" y1="583.9" x2="54.9" y2="583.9" stroke="#000" stroke-width="1"/>
<text x="45.5" y="588.3" font-size="12.8" text-anchor="end" fill="#000">0.25</text>
<line x1="50.2" y1="546.1" x2="54.9" y2="546.1" stroke="#000" stroke-width="1"/>
<text x="45.5" y="550.5" font-size="12.8" text-anchor="end" fill="#000">0.50</text>
<line x1="50.2" y1="508.3" x2="54.9" y2="508.3" stroke="#000" stroke-width="1"/>
<text x="45.5" y="512.7" font-size="12.8" text-anchor="end" fill="#000">0.75</text>
<line x1="50.2" y1="470.5" x2="54.9" y2="470.5" stroke="#000" stroke-width="1"/>
<text x="45.5" y="474.9" font-size="12.8" text-anchor="end" fill="#000">1.00</text>
<line x1="54.6" y1="621.7" x2="54.6" y2="625.5" stroke="#000" stroke-width="1"/>
<text x="54.6" y="641.5" font-size="12.8" text-anchor="middle" fill="#000">0</text>
<line x1="97.94" y1="621.7" x2="97.94" y2="625.5" stroke="#000" stroke-width="1"/>
<text x="97.94" y="641.5" font-size="12.8" text-anchor="middle" fill="#000">50</text>
<line x1="141.27" y1="621.7" x2="141.27" y2="625.5" stroke="#000" stroke-width="1"/>
<text x="141.27" y="641.5" font-size="12.8" text-anchor="middle" fill="#000">100</text>
<line x1="184.6" y1="621.7" x2="184.6" y2="625.5" stroke="#000" stroke-width="1"/>
<text x="184.6" y="641.5" font-size="12.8" text-anchor="middle" fill="#000">150</text>
<line x1="227.94" y1="621.7" x2="227.94" y2="625.5" stroke="#000" stroke-width="1"/>
<text x="227.94" y="641.5" font-size="12.8" text-anchor="middle" fill="#000">200</text>
<line x1="271.28" y1="621.7" x2="271.28" y2="625.5" stroke="#000" stroke-width="1"/>
<text x="271.28" y="641.5" font-size="12.8" text-anchor="middle" fill="#000">250</text>
<line x1="314.61" y1="621.7" x2="314.61" y2="625.5" stroke="#000" stroke-width="1"/>
<text x="314.61" y="641.5" font-size="12.8" text-anchor="middle" fill="#000">300</text>
<line x1="357.95" y1="621.7" x2="357.95" y2="625.5" stroke="#000" stroke-width="1"/>
<text x="357.95" y="641.5" font-size="12.8" text-anchor="middle" fill="#000">350</text>
<text x="206.7" y="661" font-size="12.9" text-anchor="middle" fill="#000">Time post-inhalation (ms)</text>
<text x="9.6" y="545.5" font-size="12.9" text-anchor="middle" fill="#000" transform="rotate(-90 9.6 545.5)">Performance</text>
<text x="353.5" y="580.8" font-size="12.9" text-anchor="end" fill="#2E9545">Unmasked</text>
<text x="353.5" y="598.9" font-size="12.9" text-anchor="end" fill="#4B50A8">Masked</text>
</svg>
</body></html>
